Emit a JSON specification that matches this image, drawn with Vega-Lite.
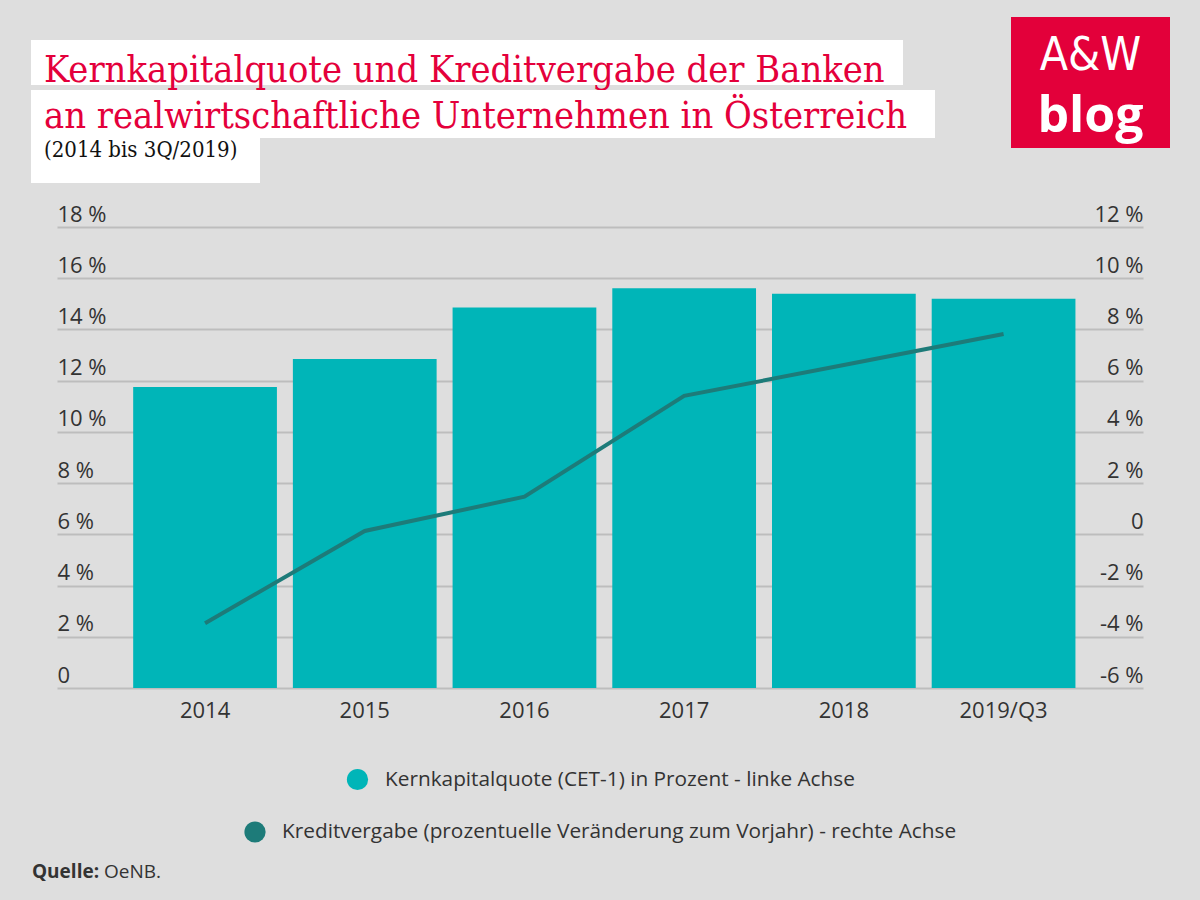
{
  "$schema": "https://vega.github.io/schema/vega-lite/v6.json",
  "background": "#DEDEDE",
  "padding": {"left": 31, "top": 17, "right": 30, "bottom": 10},
  "spacing": 20,
  "resolve": {"legend": {"fill": "independent", "stroke": "independent"}},
  "config": {
    "view": {"stroke": null},
    "font": "Open Sans",
    "concat": {"spacing": 0},
    "axis": {"labelFont": "Open Sans", "labelFontSize": 22, "labelColor": "#333333", "domain": false, "ticks": false, "tickSize": 0},
    "legend": {
      "orient": "bottom",
      "direction": "horizontal",
      "symbolType": "circle",
      "symbolSize": 450,
      "labelFont": "Open Sans",
      "labelFontSize": 20.8,
      "labelColor": "#333333",
      "labelOffset": 16,
      "labelLimit": 1000,
      "offset": 47,
      "layout": {"bottom": {"anchor": "middle", "direction": "vertical", "center": true, "margin": 30}}
    }
  },
  "vconcat": [
    {
      "hconcat": [
        {
          "vconcat": [
            {
              "width": 10, "height": 23,
              "data": {"values": []},
              "mark": "text"
            },
            {
              "width": 872, "height": 45,
              "view": {"fill": "#FFFFFF"},
              "data": {"values": [{"t": "Kernkapitalquote und Kreditvergabe der Banken"}]},
              "mark": {"type": "text", "align": "left", "baseline": "alphabetic", "dx": 13, "dy": 19.5, "font": "DejaVu Serif Condensed", "fontSize": 37.7, "color": "#E4003B"},
              "encoding": {"text": {"field": "t"}, "x": {"datum": 0, "scale": {"domain": [0, 1]}, "axis": null}}
            },
            {
              "width": 904, "height": 48,
              "view": {"fill": "#FFFFFF"},
              "data": {"values": [{"t": "an realwirtschaftliche Unternehmen in Österreich"}]},
              "mark": {"type": "text", "align": "left", "baseline": "alphabetic", "dx": 13, "dy": 14, "font": "DejaVu Serif Condensed", "fontSize": 37.7, "color": "#E4003B"},
              "encoding": {"text": {"field": "t"}, "x": {"datum": 0, "scale": {"domain": [0, 1]}, "axis": null}}
            },
            {
              "width": 229, "height": 45,
              "view": {"fill": "#FFFFFF"},
              "data": {"values": [{"t": "(2014 bis 3Q/2019)"}]},
              "mark": {"type": "text", "align": "left", "baseline": "alphabetic", "dx": 13, "dy": -3.5, "font": "DejaVu Serif Condensed", "fontSize": 22, "color": "#111111"},
              "encoding": {"text": {"field": "t"}, "x": {"datum": 0, "scale": {"domain": [0, 1]}, "axis": null}}
            }
          ]
        },
        {
          "width": 159, "height": 131,
          "view": {"fill": "#E3003A"},
          "data": {"values": [{"a": "A&W", "b": "blog"}]},
          "layer": [
            {
              "mark": {"type": "text", "align": "center", "baseline": "alphabetic", "dy": -12.5, "font": "DejaVu Sans Condensed", "fontSize": 46, "color": "#FFFFFF"},
              "encoding": {"text": {"field": "a"}}
            },
            {
              "mark": {"type": "text", "align": "center", "baseline": "alphabetic", "dy": 49.5, "font": "Open Sans", "fontWeight": "bold", "fontSize": 50, "color": "#FFFFFF"},
              "encoding": {"text": {"field": "b"}}
            }
          ]
        }
      ],
      "spacing": 76
    },
    {
      "hconcat": [
        {"width": 1, "height": 1, "data": {"values": []}, "mark": "text"},
        {
          "width": 1086,
          "height": 461,
          "data": {"values": [
            {"jahr": "2014", "cet1": 11.75, "kredit": -3.47},
            {"jahr": "2015", "cet1": 12.85, "kredit": 0.13},
            {"jahr": "2016", "cet1": 14.86, "kredit": 1.47},
            {"jahr": "2017", "cet1": 15.61, "kredit": 5.41},
            {"jahr": "2018", "cet1": 15.39, "kredit": 6.61},
            {"jahr": "2019/Q3", "cet1": 15.2, "kredit": 7.82}
          ]},
          "encoding": {
            "x": {
              "field": "jahr", "type": "nominal", "sort": null,
              "scale": {"paddingInner": 0.1, "paddingOuter": 0.45, "align": 0.53},
              "axis": {"title": null, "labelAngle": 0, "labelPadding": 12, "grid": false}
            }
          },
          "layer": [
            {
              "mark": {"type": "bar"},
              "encoding": {
                "y": {
                  "field": "cet1", "type": "quantitative",
                  "scale": {"domain": [0, 18], "nice": false, "zero": true},
                  "axis": {
                    "title": null, "orient": "left", "values": [0, 2, 4, 6, 8, 10, 12, 14, 16, 18],
                    "labelExpr": "datum.value == 0 ? '0' : datum.value + ' %'",
                    "grid": true, "gridColor": "#BDBDBD", "gridWidth": 2,
                    "labelAlign": "left", "labelBaseline": "alphabetic", "labelPadding": 0, "labelOffset": -6
                  }
                },
                "fill": {
                  "datum": "Kernkapitalquote (CET-1) in Prozent - linke Achse",
                  "scale": {"range": ["#00B5B8"]},
                  "legend": {"title": null}
                }
              }
            },
            {
              "mark": {"type": "line", "strokeWidth": 4},
              "encoding": {
                "y": {
                  "field": "kredit", "type": "quantitative",
                  "scale": {"domain": [-6, 12], "nice": false, "zero": false},
                  "axis": {
                    "title": null, "orient": "right", "values": [-6, -4, -2, 0, 2, 4, 6, 8, 10, 12],
                    "labelExpr": "datum.value == 0 ? '0' : datum.value + ' %'",
                    "grid": false,
                    "labelAlign": "right", "labelBaseline": "alphabetic", "labelPadding": 0, "labelOffset": -6
                  }
                },
                "stroke": {
                  "datum": "Kreditvergabe (prozentuelle Veränderung zum Vorjahr) - rechte Achse",
                  "scale": {"range": ["#1D7B79"]},
                  "legend": {"title": null, "symbolType": "circle", "symbolFillColor": "#1D7B79", "symbolStrokeColor": "#1D7B79", "symbolStrokeWidth": 0}
                }
              }
            }
          ],
          "resolve": {"scale": {"y": "independent"}}
        }
      ],
      "spacing": 25,
      "resolve": {"legend": {"fill": "independent", "stroke": "independent"}}
    },
    {
      "width": 200, "height": 30,
      "data": {"values": [{"q": "Quelle:", "o": "OeNB."}]},
      "layer": [
        {
          "mark": {"type": "text", "align": "left", "baseline": "alphabetic", "dx": 1, "dy": 0, "font": "Open Sans", "fontWeight": "bold", "fontSize": 19, "color": "#333333"},
          "encoding": {"text": {"field": "q"}, "x": {"datum": 0, "scale": {"domain": [0, 1]}, "axis": null}}
        },
        {
          "mark": {"type": "text", "align": "left", "baseline": "alphabetic", "dx": 73, "dy": 0, "font": "Open Sans", "fontSize": 19, "color": "#333333"},
          "encoding": {"text": {"field": "o"}, "x": {"datum": 0, "scale": {"domain": [0, 1]}, "axis": null}}
        }
      ]
    }
  ]
}
